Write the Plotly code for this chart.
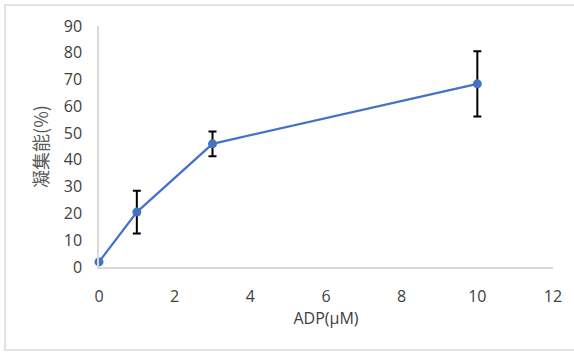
import plotly.graph_objects as go

adp = [0, 1, 3, 10]
aggregation = [1.9, 20.5, 46.0, 68.4]
error = [0, 8.0, 4.6, 12.2]
x_ticks = [0, 2, 4, 6, 8, 10, 12]
y_ticks = [0, 10, 20, 30, 40, 50, 60, 70, 80, 90]

fig = go.Figure()
fig.add_trace(go.Scatter(
    x=adp, y=aggregation, mode="lines+markers",
    line=dict(color="#4472C4", width=2.2),
    marker=dict(color="#4472C4", size=9),
    error_y=dict(type="data", array=error, visible=True,
                 color="#000000", thickness=2, width=4),
    showlegend=False, cliponaxis=False,
))

tickfont = dict(family="Open Sans, Liberation Sans, sans-serif", size=16, color="#404040")
fig.update_layout(
    width=574, height=353,
    margin=dict(l=99, r=21, t=26, b=86),
    paper_bgcolor="white", plot_bgcolor="white",
    xaxis=dict(range=[0, 12], tickvals=x_ticks, showgrid=False, zeroline=False,
               showline=True, linecolor="#d9d9d9", linewidth=1.5,
               ticks="outside", ticklen=14, tickcolor="rgba(0,0,0,0)",
               tickfont=tickfont,
               title=dict(text="ADP(μM)", font=dict(family="Open Sans, Liberation Sans, sans-serif", size=16, color="#404040"), standoff=4)),
    yaxis=dict(range=[0, 90], tickvals=y_ticks, showgrid=False, zeroline=False,
               showline=True, linecolor="#d9d9d9", linewidth=1.5,
               ticks="outside", ticklen=12, tickcolor="rgba(0,0,0,0)",
               tickfont=tickfont,
               title=dict(text="凝集能(%)", font=dict(family="Noto Sans CJK JP, sans-serif", size=18, color="#595959"), standoff=10)),
    shapes=[dict(type="rect", xref="paper", yref="paper",
                 x0=-0.207, x1=1.08, y0=-0.344, y1=1.087,
                 line=dict(color="#e3e3e3", width=2), layer="below")],
)

fig.write_html("out.html", config={"displayModeBar": False},
               post_script="document.body.style.margin='0';document.body.style.padding='0';")
